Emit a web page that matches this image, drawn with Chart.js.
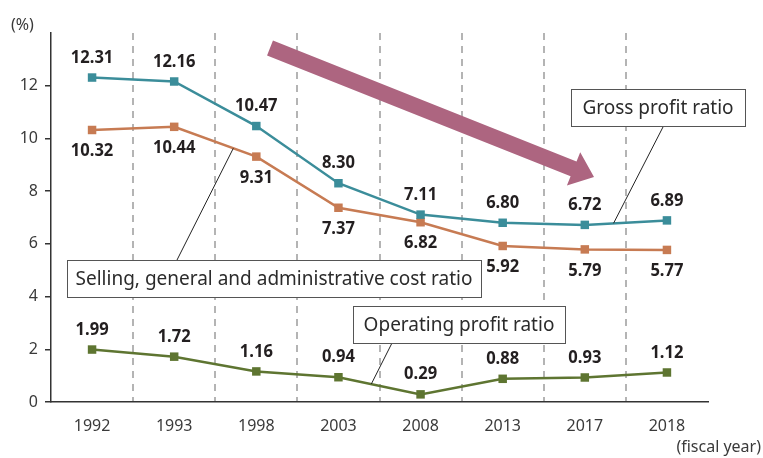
<!DOCTYPE html>
<html>
<head>
<meta charset="utf-8">
<script src="https://cdn.jsdelivr.net/npm/chart.js@4/dist/chart.umd.min.js"></script>
<style>
  body { margin: 0; background: #fff; }
  #wrap { width: 763px; height: 458px; }
</style>
</head>
<body>
<div id="wrap"><canvas id="chart" width="763" height="458"></canvas></div>
<script>
// data
const years = ['1992', '1993', '1998', '2003', '2008', '2013', '2017', '2018'];
const grossProfit = [12.31, 12.16, 10.47, 8.30, 7.11, 6.80, 6.72, 6.89];
const sgaCost = [10.32, 10.44, 9.31, 7.37, 6.82, 5.92, 5.79, 5.77];
const operatingProfit = [1.99, 1.72, 1.16, 0.94, 0.29, 0.88, 0.93, 1.12];
const yTicks = [0, 2, 4, 6, 8, 10, 12];

const TEAL = '#3b8d9a';
const ORANGE = '#c77b53';
const GREEN = '#5e7531';
const FONT = '"Noto Sans", "Open Sans", sans-serif';

// point on a dataset's line between index i and i+1
const along = (chart, ds, i, f) => {
    const a = chart.getDatasetMeta(ds).data[i];
    const b = chart.getDatasetMeta(ds).data[i + 1];
    return { x: a.x + (b.x - a.x) * f, y: a.y + (b.y - a.y) * f };
};

const labelBox = (ctx, text, x1, y1, x2, y2) => {
    ctx.fillStyle = '#fff';
    ctx.fillRect(x1, y1, x2 - x1, y2 - y1);
    ctx.strokeStyle = '#555';
    ctx.lineWidth = 1;
    ctx.strokeRect(x1 + 0.5, y1 + 0.5, x2 - x1, y2 - y1);
    ctx.fillStyle = '#2b2b2b';
    ctx.font = '19px ' + FONT;
    ctx.textAlign = 'center';
    ctx.textBaseline = 'middle';
    ctx.fillText(text, (x1 + x2) / 2, (y1 + y2) / 2 + 1, x2 - x1 - 12);
};

const leader = (ctx, x1, y1, p) => {
    ctx.strokeStyle = '#222';
    ctx.lineWidth = 1;
    ctx.beginPath();
    ctx.moveTo(x1, y1);
    ctx.lineTo(p.x, p.y);
    ctx.stroke();
};

const extras = {
    id: 'extras',
    afterDatasetsDraw(chart) {
        const ctx = chart.ctx;
        ctx.save();

        // value labels
        ctx.font = 'bold 18px ' + FONT;
        ctx.fillStyle = '#231f20';
        ctx.textAlign = 'center';
        ctx.textBaseline = 'middle';
        const offsets = [-20, 21, -20];
        chart.data.datasets.forEach((ds, d) => {
            chart.getDatasetMeta(d).data.forEach((pt, i) => {
                const txt = ds.data[i].toFixed(2);
                ctx.fillText(txt, pt.x, pt.y + offsets[d], ctx.measureText(txt).width * 0.92);
            });
        });

        // trend arrow
        const sx = 270, sy = 48, tx = 594, ty = 177;
        const len = Math.hypot(tx - sx, ty - sy);
        const ux = (tx - sx) / len, uy = (ty - sy) / len;
        const nx = -uy, ny = ux;
        const hl = 22, hw = 18, sw = 8;
        const bx = tx - ux * hl, by = ty - uy * hl;
        ctx.fillStyle = '#ad6580';
        ctx.beginPath();
        ctx.moveTo(sx + nx * sw, sy + ny * sw);
        ctx.lineTo(bx + nx * sw, by + ny * sw);
        ctx.lineTo(bx + nx * hw, by + ny * hw);
        ctx.lineTo(tx, ty);
        ctx.lineTo(bx - nx * hw, by - ny * hw);
        ctx.lineTo(bx - nx * sw, by - ny * sw);
        ctx.lineTo(sx - nx * sw, sy - ny * sw);
        ctx.closePath();
        ctx.fill();

        // callouts
        leader(ctx, 663, 127, along(chart, 0, 6, 0.35));
        labelBox(ctx, 'Gross profit ratio', 571, 89, 745, 126);
        leader(ctx, 177, 260, along(chart, 1, 1, 0.72));
        labelBox(ctx, 'Selling, general and administrative cost ratio', 67, 260, 481, 297);
        leader(ctx, 392, 343, along(chart, 2, 3, 0.4));
        labelBox(ctx, 'Operating profit ratio', 353, 306, 565, 343);

        // unit texts
        ctx.font = '16px ' + FONT;
        ctx.fillStyle = '#3a3a3a';
        ctx.textAlign = 'left';
        ctx.fillText('(%)', 11, 25);
        ctx.textAlign = 'right';
        ctx.fillText('(fiscal year)', 761, 447);
        ctx.restore();
    }
};

const series = (label, data, color) => ({
    label: label,
    data: data,
    borderColor: color,
    backgroundColor: color,
    borderWidth: 2.5,
    pointStyle: 'rect',
    pointRadius: 6,
    pointBorderWidth: 0,
    tension: 0,
    clip: false
});

new Chart(document.getElementById('chart').getContext('2d'), {
    type: 'line',
    data: {
        labels: years,
        datasets: [
            series('Gross profit ratio', grossProfit, TEAL),
            series('Selling, general and administrative cost ratio', sgaCost, ORANGE),
            series('Operating profit ratio', operatingProfit, GREEN)
        ]
    },
    plugins: [extras],
    options: {
        responsive: false,
        animation: false,
        events: [],
        layout: { padding: { top: 33, right: 55, left: 0, bottom: 0 } },
        plugins: { legend: { display: false }, tooltip: { enabled: false } },
        scales: {
            x: {
                offset: true,
                afterFit: (s) => { s.height = 56; },
                grid: {
                    offset: true,
                    drawTicks: false,
                    lineWidth: 2,
                    color: (c) => (c.index === undefined || c.index === 0) ? 'rgba(0,0,0,0)' : '#b4b4b4'
                },
                border: { display: true, color: '#333', width: 1.5, dash: [7, 6] },
                ticks: { padding: 15, color: '#3a3a3a', font: { family: FONT, size: 16 } }
            },
            y: {
                min: 0,
                max: 14,
                afterFit: (s) => { s.width = 51; },
                afterBuildTicks: (s) => { s.ticks = yTicks.map(v => ({ value: v })); },
                grid: {
                    drawOnChartArea: false,
                    drawTicks: true,
                    tickLength: 6,
                    color: '#333',
                    lineWidth: 1.5
                },
                border: { display: true, color: '#333', width: 1.5 },
                ticks: { padding: 7, color: '#3a3a3a', font: { family: FONT, size: 16 } }
            }
        }
    }
});
</script>
</body>
</html>
